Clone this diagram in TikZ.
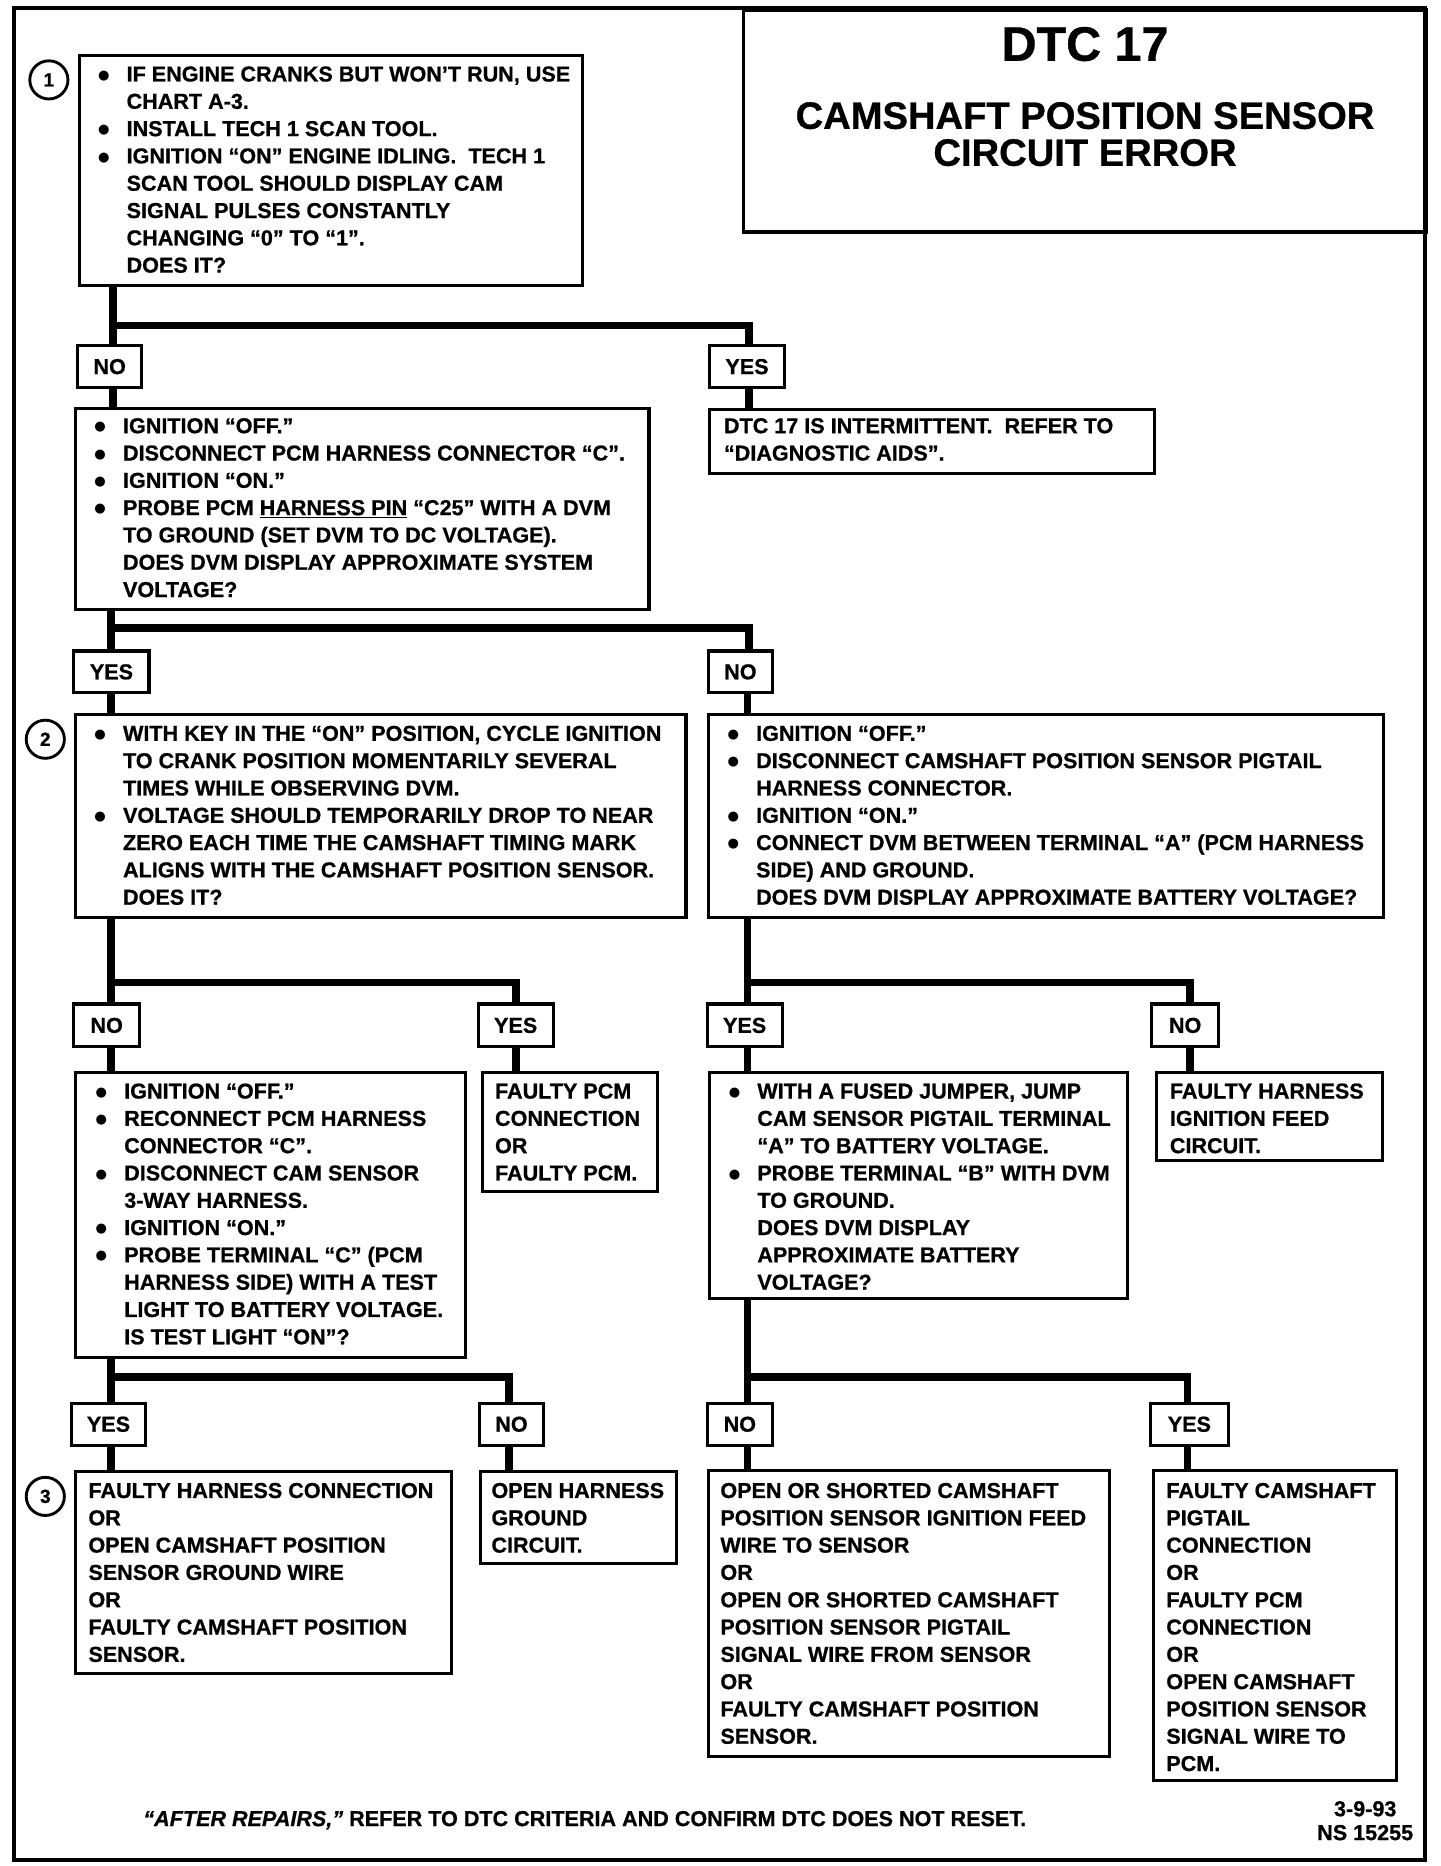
\documentclass[tikz,border=0pt]{standalone}
\usepackage{fontspec}
\setmainfont{Liberation Sans}[BoldFeatures={FakeBold=0.8},BoldItalicFeatures={FakeBold=0.8}]
\newfontfamily\symfont{DejaVu Sans}
\newcommand{\bodyfont}{\fontsize{18.1}{22.9}\selectfont\bfseries}
\newcommand{\bu}{\makebox[24pt][l]{\raisebox{2pt}{\symfont\fontsize{11}{11}\selectfont ●}}}
\newcommand{\ind}{\hspace*{24pt}}
\tikzset{
  boxst/.style={draw, line width=2.6pt, rectangle, inner sep=0pt},
  labst/.style={draw, line width=2.6pt, rectangle, inner sep=0pt, font=\bodyfont},
  txt/.style={inner sep=0pt, align=left, font=\bodyfont, anchor=north west},
  conn/.style={line width=6.5pt},
  framest/.style={line width=3.5pt},
  numst/.style={circle, draw, line width=2.4pt, minimum size=32pt, inner sep=0pt, font=\fontsize{16}{16}\selectfont\bfseries}
}
\newcommand{\bx}[5]{\node[boxst, anchor=north west, minimum width={(#4-#2)*1pt}, minimum height={(#5-#3)*1pt}] (#1) at (#2,#3) {};}
\newcommand{\lab}[6]{\node[labst, minimum width={(#4-#2)*1pt}, minimum height={(#5-#3)*1pt}] (#1) at ({(#2+#4)/2},{(#3+#5)/2}) {#6};}
\begin{document}
\begin{tikzpicture}[x=1pt,y=-1pt]
\useasboundingbox (0,0) rectangle (1208,1565);
% frame and title
\draw[framest] (12,7) rectangle (1195,1560);
\node[draw, line width=3pt, rectangle, inner sep=0pt, anchor=north west, minimum width=573pt, minimum height=186pt] (title) at (622,7) {};
\node[font=\fontsize{40.6}{40}\selectfont\bfseries, inner sep=0pt] (dtc) at (910,37) {DTC 17};
\node[align=center, font=\fontsize{32}{31}\selectfont\bfseries, inner sep=0pt] (sub) at (910,112.5) {CAMSHAFT POSITION SENSOR\\CIRCUIT ERROR};
% column coordinates
\coordinate (bar1) at (0,273);
\coordinate (bar2) at (0,527);
\coordinate (bar3) at (0,824);
\coordinate (bar5) at (0,1155);
\coordinate (xa) at (95,0);
\coordinate (xb) at (628,0);
\coordinate (xc) at (93,0);
\coordinate (xd) at (627,0);
\coordinate (xe) at (433,0);
\coordinate (xf) at (998,0);
\coordinate (xg) at (427,0);
\coordinate (xh) at (996,0);
% boxes
\bx{B1}{65}{45}{487}{238}
\bx{B2}{62}{341}{543}{510}
\bx{B2Y}{594}{342}{967}{396}
\bx{B3}{62}{598}{574}{768}
\bx{B4}{593}{598}{1159}{768}
\bx{B5}{62}{898}{389}{1137}
\bx{B5Y}{403}{898}{550}{998}
\bx{B6}{594}{898}{944}{1088}
\bx{B6N}{969}{898}{1158}{972}
\bx{B7}{62}{1233}{377}{1402}
\bx{B8}{402}{1233}{566}{1310}
\bx{B9}{593}{1232}{929}{1472}
\bx{B10}{966}{1232}{1170}{1492}
% labels
\lab{NO1}{65}{290}{119}{325}{NO}
\lab{YES1}{595}{290}{658}{325}{YES}
\lab{YES2}{62}{546}{125}{581}{YES}
\lab{NO2}{594}{546}{648}{581}{NO}
\lab{NO3}{62}{842}{117}{878}{NO}
\lab{YES3}{401}{842}{464}{878}{YES}
\lab{YES4}{593}{842}{656}{878}{YES}
\lab{NO4}{966}{842}{1022}{878}{NO}
\lab{YES5}{60}{1177}{122}{1212}{YES}
\lab{NO5}{402}{1177}{456}{1212}{NO}
\lab{NO6}{593}{1177}{648}{1212}{NO}
\lab{YES6}{965}{1177}{1030}{1212}{YES}
% numbers
\node[numst] (n1) at (41,67) {1};
\node[numst] (n2) at (38,620) {2};
\node[numst] (n3) at (38,1255) {3};
% connectors
\draw[conn] (xa |- B1.south) -- (xa |- NO1.north);
\draw[conn] (xa |- NO1.south) -- (xa |- B2.north);
\draw[conn] (xa |- bar1) -| (xb |- YES1.north);
\draw[conn] (xb |- YES1.south) -- (xb |- B2Y.north);
\draw[conn] (xc |- B2.south) -- (xc |- YES2.north);
\draw[conn] (xc |- YES2.south) -- (xc |- B3.north);
\draw[conn] (xc |- bar2) -| (xb |- NO2.north);
\draw[conn] (xd |- NO2.south) -- (xd |- B4.north);
\draw[conn] (xc |- B3.south) -- (xc |- NO3.north);
\draw[conn] (xc |- NO3.south) -- (xc |- B5.north);
\draw[conn] (xc |- bar3) -| (xe |- YES3.north);
\draw[conn] (xe |- YES3.south) -- (xe |- B5Y.north);
\draw[conn] (xd |- B4.south) -- (xd |- YES4.north);
\draw[conn] (xd |- YES4.south) -- (xd |- B6.north);
\draw[conn] (xd |- bar3) -| (xf |- NO4.north);
\draw[conn] (xf |- NO4.south) -- (xf |- B6N.north);
\draw[conn] (xc |- B5.south) -- (xc |- YES5.north);
\draw[conn] (xc |- YES5.south) -- (xc |- B7.north);
\draw[conn] (xc |- bar5) -| (xg |- NO5.north);
\draw[conn] (xg |- NO5.south) -- (xg |- B8.north);
\draw[conn] (xd |- B6.south) -- (xd |- NO6.north);
\draw[conn] (xd |- NO6.south) -- (xd |- B9.north);
\draw[conn] (xd |- bar5) -| (xh |- YES6.north);
\draw[conn] (xh |- YES6.south) -- (xh |- B10.north);
% texts
\node[txt] (B1t) at (82,55.5) {\bu IF ENGINE CRANKS BUT WON’T RUN, USE\\
\ind CHART A-3.\\
\bu INSTALL TECH 1 SCAN TOOL.\\
\bu IGNITION “ON” ENGINE IDLING.\ \ TECH 1\\
\ind SCAN TOOL SHOULD DISPLAY CAM\\
\ind SIGNAL PULSES CONSTANTLY\\
\ind CHANGING “0” TO “1”.\\
\ind DOES IT?};
\node[txt] (B2t) at (79,350.5) {\bu IGNITION “OFF.”\\
\bu DISCONNECT PCM HARNESS CONNECTOR “C”.\\
\bu IGNITION “ON.”\\
\bu PROBE PCM \underline{HARNESS PIN} “C25” WITH A DVM\\
\ind TO GROUND (SET DVM TO DC VOLTAGE).\\
\ind DOES DVM DISPLAY APPROXIMATE SYSTEM\\
\ind VOLTAGE?};
\node[txt] (B2Yt) at (607,350.5) {DTC 17 IS INTERMITTENT.\ \ REFER TO\\
“DIAGNOSTIC AIDS”.};
\node[txt] (B3t) at (79,608.5) {\bu WITH KEY IN THE “ON” POSITION, CYCLE IGNITION\\
\ind TO CRANK POSITION MOMENTARILY SEVERAL\\
\ind TIMES WHILE OBSERVING DVM.\\
\bu VOLTAGE SHOULD TEMPORARILY DROP TO NEAR\\
\ind ZERO EACH TIME THE CAMSHAFT TIMING MARK\\
\ind ALIGNS WITH THE CAMSHAFT POSITION SENSOR.\\
\ind DOES IT?};
\node[txt] (B4t) at (610,608.5) {\bu IGNITION “OFF.”\\
\bu DISCONNECT CAMSHAFT POSITION SENSOR PIGTAIL\\
\ind HARNESS CONNECTOR.\\
\bu IGNITION “ON.”\\
\bu CONNECT DVM BETWEEN TERMINAL “A” (PCM HARNESS\\
\ind SIDE) AND GROUND.\\
\ind DOES DVM DISPLAY APPROXIMATE BATTERY VOLTAGE?};
\node[txt] (B5t) at (80,908.5) {\bu IGNITION “OFF.”\\
\bu RECONNECT PCM HARNESS\\
\ind CONNECTOR “C”.\\
\bu DISCONNECT CAM SENSOR\\
\ind 3-WAY HARNESS.\\
\bu IGNITION “ON.”\\
\bu PROBE TERMINAL “C” (PCM\\
\ind HARNESS SIDE) WITH A TEST\\
\ind LIGHT TO BATTERY VOLTAGE.\\
\ind IS TEST LIGHT “ON”?};
\node[txt] (B5Yt) at (415,908.5) {FAULTY PCM\\
CONNECTION\\
OR\\
FAULTY PCM.};
\node[txt] (B6t) at (611,908.5) {\bu WITH A FUSED JUMPER, JUMP\\
\ind CAM SENSOR PIGTAIL TERMINAL\\
\ind “A” TO BATTERY VOLTAGE.\\
\bu PROBE TERMINAL “B” WITH DVM\\
\ind TO GROUND.\\
\ind DOES DVM DISPLAY\\
\ind APPROXIMATE BATTERY\\
\ind VOLTAGE?};
\node[txt] (B6Nt) at (981,908.5) {FAULTY HARNESS\\
IGNITION FEED\\
CIRCUIT.};
\node[txt] (B7t) at (74,1243.5) {FAULTY HARNESS CONNECTION\\
OR\\
OPEN CAMSHAFT POSITION\\
SENSOR GROUND WIRE\\
OR\\
FAULTY CAMSHAFT POSITION\\
SENSOR.};
\node[txt] (B8t) at (412,1243.5) {OPEN HARNESS\\
GROUND\\
CIRCUIT.};
\node[txt] (B9t) at (604,1243.5) {OPEN OR SHORTED CAMSHAFT\\
POSITION SENSOR IGNITION FEED\\
WIRE TO SENSOR\\
OR\\
OPEN OR SHORTED CAMSHAFT\\
POSITION SENSOR PIGTAIL\\
SIGNAL WIRE FROM SENSOR\\
OR\\
FAULTY CAMSHAFT POSITION\\
SENSOR.};
\node[txt] (B10t) at (978,1243.5) {FAULTY CAMSHAFT\\
PIGTAIL\\
CONNECTION\\
OR\\
FAULTY PCM\\
CONNECTION\\
OR\\
OPEN CAMSHAFT\\
POSITION SENSOR\\
SIGNAL WIRE TO\\
PCM.};
% footer
\node[anchor=base west, inner sep=0pt, font=\bodyfont] (foot) at (120,1531.5) {\textit{“AFTER REPAIRS,”} REFER TO DTC CRITERIA AND CONFIRM DTC DOES NOT RESET.};
\node[align=center, inner sep=0pt, font=\fontsize{18.1}{20}\selectfont\bfseries] (date) at (1145,1527) {3-9-93\\NS 15255};
\end{tikzpicture}
\end{document}
